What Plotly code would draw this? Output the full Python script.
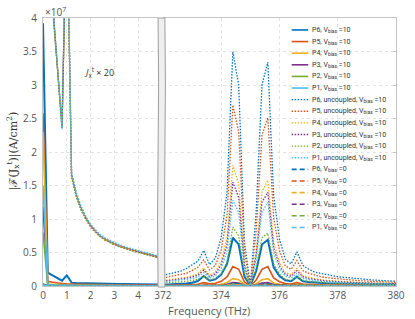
import plotly.graph_objects as go

# ---------------- data (values in units of 1e7 A/cm^2) ----------------
freq_left = [round(0.2 * i, 1) for i in range(26)]          # 0 ... 5.0 THz
freq_right = [round(372 + 0.2 * i, 1) for i in range(41)]   # 372 ... 380 THz

names = ["P6", "P5", "P4", "P3", "P2", "P1"]
colors = ["#0072BD", "#D95319", "#EDB120", "#7E2F8E", "#77AC30", "#4DBEEE"]

# coupled, Vbias = 10 (solid)
P6_c_left = [3.92, 0.20, 0.16, 0.12, 0.08, 0.16, 0.05, 0.045, 0.042, 0.04, 0.038, 0.036, 0.034,
             0.032, 0.031, 0.03, 0.029, 0.028, 0.027, 0.026, 0.025, 0.024, 0.023, 0.022, 0.021, 0.02]
P5_c_left = [2.58, 0.07, 0.055, 0.045, 0.035, 0.03, 0.028, 0.026, 0.024, 0.022, 0.02, 0.019, 0.018,
             0.017, 0.016, 0.015, 0.014, 0.014, 0.013, 0.013, 0.012, 0.012, 0.011, 0.011, 0.01, 0.01]
P4_c_left = [2.3, 0.03, 0.025, 0.02, 0.018, 0.016, 0.015, 0.014, 0.013, 0.012, 0.012, 0.011, 0.011,
             0.01, 0.01, 0.01, 0.009, 0.009, 0.009, 0.009, 0.008, 0.008, 0.008, 0.008, 0.008, 0.008]
P3_c_left = [1.18, 0.015, 0.012, 0.011, 0.01, 0.009, 0.009, 0.008, 0.008, 0.008, 0.007, 0.007, 0.007,
             0.007, 0.006, 0.006, 0.006, 0.006, 0.006, 0.005, 0.005, 0.005, 0.005, 0.005, 0.005, 0.005]
P2_c_left = [0.8, 0.01, 0.009, 0.008, 0.007, 0.007, 0.006, 0.006, 0.006, 0.005, 0.005, 0.005, 0.005,
             0.005, 0.004, 0.004, 0.004, 0.004, 0.004, 0.004, 0.004, 0.004, 0.003, 0.003, 0.003, 0.003]
P1_c_left = [1.5, 0.02, 0.015, 0.012, 0.01, 0.009, 0.008, 0.008, 0.007, 0.007, 0.006, 0.006, 0.006,
             0.006, 0.005, 0.005, 0.005, 0.005, 0.005, 0.004, 0.004, 0.004, 0.004, 0.004, 0.004, 0.004]

P6_c_right = [0.02, 0.022, 0.025, 0.029, 0.036, 0.05, 0.075, 0.15, 0.08, 0.10, 0.17, 0.33, 0.72, 0.62,
              0.14, 0.005, 0.22, 0.62, 0.69, 0.28, 0.15, 0.085, 0.07, 0.14, 0.07, 0.058, 0.05, 0.045,
              0.041, 0.038, 0.036, 0.034, 0.032, 0.031, 0.03, 0.029, 0.028, 0.027, 0.026, 0.025, 0.025]
P5_c_right = [0.008, 0.009, 0.011, 0.013, 0.016, 0.02, 0.027, 0.05, 0.032, 0.042, 0.07, 0.135, 0.29,
              0.25, 0.06, 0.003, 0.09, 0.25, 0.29, 0.12, 0.065, 0.036, 0.03, 0.05, 0.03, 0.024, 0.02,
              0.017, 0.015, 0.014, 0.013, 0.012, 0.011, 0.011, 0.01, 0.01, 0.009, 0.009, 0.009, 0.008, 0.008]
P4_c_right = [0.003, 0.004, 0.004, 0.005, 0.006, 0.008, 0.01, 0.02, 0.012, 0.016, 0.027, 0.052, 0.11,
              0.095, 0.023, 0.001, 0.034, 0.095, 0.11, 0.046, 0.025, 0.014, 0.012, 0.02, 0.012, 0.009,
              0.008, 0.007, 0.006, 0.006, 0.005, 0.005, 0.005, 0.004, 0.004, 0.004, 0.004, 0.004, 0.003,
              0.003, 0.003]
P3_c_right = [0.002, 0.002, 0.002, 0.003, 0.003, 0.004, 0.005, 0.009, 0.006, 0.007, 0.012, 0.024, 0.05,
              0.043, 0.01, 0.001, 0.016, 0.043, 0.05, 0.021, 0.011, 0.006, 0.005, 0.009, 0.005, 0.004,
              0.004, 0.003, 0.003, 0.003, 0.003, 0.002, 0.002, 0.002, 0.002, 0.002, 0.002, 0.002, 0.002,
              0.002, 0.002]
P2_c_right = [0.001, 0.001, 0.001, 0.002, 0.002, 0.002, 0.003, 0.006, 0.004, 0.004, 0.007, 0.014, 0.03,
              0.026, 0.006, 0.0, 0.009, 0.026, 0.03, 0.012, 0.007, 0.004, 0.003, 0.005, 0.003, 0.003,
              0.002, 0.002, 0.002, 0.002, 0.002, 0.001, 0.001, 0.001, 0.001, 0.001, 0.001, 0.001, 0.001,
              0.001, 0.001]
P1_c_right = [0.001, 0.001, 0.001, 0.001, 0.001, 0.001, 0.002, 0.003, 0.002, 0.002, 0.004, 0.007, 0.015,
              0.013, 0.003, 0.0, 0.005, 0.013, 0.015, 0.006, 0.003, 0.002, 0.002, 0.003, 0.002, 0.001,
              0.001, 0.001, 0.001, 0.001, 0.001, 0.001, 0.001, 0.001, 0.001, 0.001, 0.001, 0.001, 0.001,
              0.001, 0.001]

# uncoupled, Vbias = 10 (dotted, x20)
P6_u_left = [9.0, 7.0, 4.25, 3.3, 2.35, 5.9, 1.68, 1.38, 1.18, 1.03, 0.91, 0.83, 0.76, 0.71, 0.67,
             0.64, 0.61, 0.58, 0.56, 0.54, 0.52, 0.5, 0.48, 0.46, 0.44, 0.425]
P5_u_left = [8.8, 6.9, 4.22, 3.28, 2.37, 5.8, 1.66, 1.36, 1.16, 1.02, 0.90, 0.82, 0.75, 0.70, 0.66,
             0.63, 0.60, 0.575, 0.555, 0.535, 0.515, 0.495, 0.475, 0.455, 0.435, 0.42]
P4_u_left = [8.7, 6.8, 4.2, 3.27, 2.38, 5.75, 1.65, 1.35, 1.15, 1.01, 0.895, 0.815, 0.745, 0.695, 0.655,
             0.625, 0.595, 0.57, 0.55, 0.53, 0.51, 0.49, 0.47, 0.45, 0.43, 0.415]
P3_u_left = [8.6, 6.7, 4.18, 3.26, 2.39, 5.7, 1.64, 1.34, 1.14, 1.0, 0.89, 0.81, 0.74, 0.69, 0.65,
             0.62, 0.59, 0.565, 0.545, 0.525, 0.505, 0.485, 0.465, 0.445, 0.425, 0.41]
P2_u_left = [8.5, 6.6, 4.15, 3.25, 2.4, 5.65, 1.63, 1.33, 1.13, 0.99, 0.88, 0.80, 0.735, 0.685, 0.645,
             0.615, 0.585, 0.56, 0.54, 0.52, 0.50, 0.48, 0.46, 0.44, 0.42, 0.405]
P1_u_left = [9.2, 7.1, 4.28, 3.3, 2.34, 5.95, 1.70, 1.40, 1.19, 1.04, 0.92, 0.84, 0.77, 0.72, 0.68,
             0.65, 0.62, 0.59, 0.57, 0.55, 0.53, 0.51, 0.49, 0.47, 0.45, 0.435]

P6_u_right = [0.16, 0.18, 0.20, 0.22, 0.26, 0.31, 0.37, 0.53, 0.32, 0.42, 0.72, 1.40, 3.50, 3.00, 0.65,
              0.01, 1.10, 3.00, 3.34, 1.35, 0.70, 0.40, 0.33, 0.51, 0.31, 0.25, 0.21, 0.19, 0.17, 0.155,
              0.14, 0.13, 0.12, 0.11, 0.10, 0.095, 0.09, 0.085, 0.08, 0.075, 0.07]
P5_u_right = [0.12, 0.135, 0.15, 0.165, 0.19, 0.23, 0.28, 0.39, 0.24, 0.31, 0.54, 1.05, 2.70, 2.30, 0.50,
              0.01, 0.82, 2.25, 2.51, 1.02, 0.53, 0.30, 0.25, 0.38, 0.23, 0.19, 0.16, 0.14, 0.125, 0.115,
              0.105, 0.095, 0.09, 0.085, 0.078, 0.073, 0.069, 0.065, 0.062, 0.058, 0.055]
P4_u_right = [0.08, 0.09, 0.10, 0.11, 0.13, 0.155, 0.185, 0.27, 0.16, 0.21, 0.37, 0.72, 1.80, 1.52, 0.33,
              0.01, 0.52, 1.40, 1.58, 0.66, 0.35, 0.20, 0.17, 0.26, 0.16, 0.13, 0.11, 0.095, 0.085, 0.078,
              0.07, 0.065, 0.06, 0.056, 0.052, 0.049, 0.046, 0.044, 0.042, 0.04, 0.038]
P3_u_right = [0.07, 0.08, 0.09, 0.10, 0.115, 0.135, 0.16, 0.24, 0.14, 0.18, 0.32, 0.62, 1.55, 1.32, 0.29,
              0.01, 0.46, 1.25, 1.40, 0.57, 0.30, 0.17, 0.145, 0.23, 0.14, 0.11, 0.095, 0.083, 0.075,
              0.068, 0.062, 0.057, 0.053, 0.049, 0.046, 0.043, 0.04, 0.038, 0.036, 0.035, 0.033]
P2_u_right = [0.045, 0.05, 0.055, 0.062, 0.07, 0.083, 0.10, 0.15, 0.09, 0.11, 0.18, 0.36, 0.88, 0.75,
              0.17, 0.01, 0.27, 0.72, 0.79, 0.33, 0.18, 0.10, 0.085, 0.14, 0.085, 0.07, 0.06, 0.052,
              0.047, 0.043, 0.039, 0.036, 0.033, 0.031, 0.029, 0.027, 0.025, 0.024, 0.023, 0.022, 0.021]
P1_u_right = [0.06, 0.068, 0.075, 0.083, 0.095, 0.11, 0.135, 0.20, 0.12, 0.15, 0.26, 0.51, 1.28, 1.10,
              0.24, 0.01, 0.40, 1.10, 1.25, 0.49, 0.26, 0.145, 0.12, 0.19, 0.115, 0.095, 0.08, 0.07,
              0.063, 0.057, 0.052, 0.048, 0.044, 0.041, 0.038, 0.036, 0.034, 0.032, 0.03, 0.029, 0.027]

# coupled, Vbias = 0 (dashed)
P6_z_left = [0.03, 0.006, 0.005, 0.005, 0.004, 0.006, 0.004, 0.004, 0.004, 0.003, 0.003, 0.003, 0.003,
             0.003, 0.003, 0.003, 0.002, 0.002, 0.002, 0.002, 0.002, 0.002, 0.002, 0.002, 0.002, 0.002]
P5_z_left = [0.025, 0.005, 0.004, 0.004, 0.003, 0.004, 0.003, 0.003, 0.003, 0.003, 0.003, 0.002, 0.002,
             0.002, 0.002, 0.002, 0.002, 0.002, 0.002, 0.002, 0.002, 0.002, 0.002, 0.002, 0.002, 0.002]
P4_z_left = [0.02, 0.004, 0.003, 0.003, 0.003, 0.003, 0.003, 0.002, 0.002, 0.002, 0.002, 0.002, 0.002,
             0.002, 0.002, 0.002, 0.002, 0.002, 0.001, 0.001, 0.001, 0.001, 0.001, 0.001, 0.001, 0.001]
P3_z_left = [0.015, 0.003, 0.003, 0.002, 0.002, 0.002, 0.002, 0.002, 0.002, 0.002, 0.001, 0.001, 0.001,
             0.001, 0.001, 0.001, 0.001, 0.001, 0.001, 0.001, 0.001, 0.001, 0.001, 0.001, 0.001, 0.001]
P2_z_left = [0.012, 0.002, 0.002, 0.002, 0.002, 0.002, 0.001, 0.001, 0.001, 0.001, 0.001, 0.001, 0.001,
             0.001, 0.001, 0.001, 0.001, 0.001, 0.001, 0.001, 0.001, 0.001, 0.001, 0.001, 0.001, 0.001]
P1_z_left = [0.01, 0.002, 0.002, 0.001, 0.001, 0.001, 0.001, 0.001, 0.001, 0.001, 0.001, 0.001, 0.001,
             0.001, 0.001, 0.001, 0.001, 0.001, 0.001, 0.001, 0.001, 0.001, 0.001, 0.001, 0.001, 0.001]

P6_z_right = [0.004, 0.004, 0.005, 0.005, 0.006, 0.007, 0.008, 0.012, 0.008, 0.009, 0.013, 0.02, 0.035,
              0.03, 0.01, 0.002, 0.012, 0.03, 0.034, 0.016, 0.01, 0.007, 0.006, 0.009, 0.006, 0.005,
              0.005, 0.004, 0.004, 0.004, 0.004, 0.003, 0.003, 0.003, 0.003, 0.003, 0.003, 0.003, 0.003,
              0.003, 0.003]
P5_z_right = [0.003, 0.003, 0.004, 0.004, 0.004, 0.005, 0.006, 0.009, 0.006, 0.007, 0.009, 0.014, 0.025,
              0.021, 0.007, 0.001, 0.008, 0.021, 0.024, 0.011, 0.007, 0.005, 0.004, 0.006, 0.004, 0.004,
              0.003, 0.003, 0.003, 0.003, 0.003, 0.002, 0.002, 0.002, 0.002, 0.002, 0.002, 0.002, 0.002,
              0.002, 0.002]
P4_z_right = [0.002, 0.002, 0.003, 0.003, 0.003, 0.004, 0.004, 0.006, 0.004, 0.005, 0.006, 0.01, 0.017,
              0.015, 0.005, 0.001, 0.006, 0.015, 0.017, 0.008, 0.005, 0.004, 0.003, 0.004, 0.003, 0.003,
              0.002, 0.002, 0.002, 0.002, 0.002, 0.002, 0.002, 0.002, 0.002, 0.002, 0.001, 0.001, 0.001,
              0.001, 0.001]
P3_z_right = [0.002, 0.002, 0.002, 0.002, 0.002, 0.003, 0.003, 0.005, 0.003, 0.004, 0.005, 0.008, 0.013,
              0.011, 0.004, 0.001, 0.005, 0.011, 0.013, 0.006, 0.004, 0.003, 0.002, 0.003, 0.002, 0.002,
              0.002, 0.002, 0.002, 0.001, 0.001, 0.001, 0.001, 0.001, 0.001, 0.001, 0.001, 0.001, 0.001,
              0.001, 0.001]
P2_z_right = [0.001, 0.001, 0.001, 0.002, 0.002, 0.002, 0.002, 0.003, 0.002, 0.003, 0.003, 0.005, 0.009,
              0.008, 0.003, 0.0, 0.003, 0.008, 0.009, 0.004, 0.003, 0.002, 0.002, 0.002, 0.002, 0.001,
              0.001, 0.001, 0.001, 0.001, 0.001, 0.001, 0.001, 0.001, 0.001, 0.001, 0.001, 0.001, 0.001,
              0.001, 0.001]
P1_z_right = [0.001, 0.001, 0.001, 0.001, 0.001, 0.001, 0.001, 0.002, 0.001, 0.002, 0.002, 0.003, 0.006,
              0.005, 0.002, 0.0, 0.002, 0.005, 0.006, 0.003, 0.002, 0.001, 0.001, 0.001, 0.001, 0.001,
              0.001, 0.001, 0.001, 0.001, 0.001, 0.001, 0.001, 0.001, 0.001, 0.001, 0.001, 0.001, 0.001,
              0.001, 0.001]

coupled = [(P6_c_left, P6_c_right), (P5_c_left, P5_c_right), (P4_c_left, P4_c_right),
           (P3_c_left, P3_c_right), (P2_c_left, P2_c_right), (P1_c_left, P1_c_right)]
uncoupled = [(P6_u_left, P6_u_right), (P5_u_left, P5_u_right), (P4_u_left, P4_u_right),
             (P3_u_left, P3_u_right), (P2_u_left, P2_u_right), (P1_u_left, P1_u_right)]
zero_bias = [(P6_z_left, P6_z_right), (P5_z_left, P5_z_right), (P4_z_left, P4_z_right),
             (P3_z_left, P3_z_right), (P2_z_left, P2_z_right), (P1_z_left, P1_z_right)]

y_ticks = [0, 0.5, 1, 1.5, 2, 2.5, 3, 3.5, 4]
y_ticktext = ["0", "0.5", "1", "1.5", "2", "2.5", "3", "3.5", "4"]
x_left_ticks = [0, 1, 2, 3, 4]
x_right_ticks = [372, 374, 376, 378, 380]

# ---------------- styles ----------------
SOLID = dict(dash="solid")
DOT = dict(dash="1.5px,1.5px")
DASH = dict(dash="5px,3px")
groups = [
    (coupled, SOLID, [2.0, 1.6, 1.6, 1.6, 1.6, 1.6], "P{n}, V<sub>bias</sub> =10"),
    (uncoupled, DOT, [1.3] * 6, "P{n}, uncoupled, V<sub>bias</sub> =10"),
    (zero_bias, DASH, [1.5] * 6, "P{n}, V<sub>bias</sub> =0"),
]

fig = go.Figure()
for data, style, widths, _ in groups:
    for i, (yl, yr) in enumerate(data):
        ln = dict(color=colors[i], width=widths[i], **style)
        fig.add_trace(go.Scatter(x=freq_left, y=yl, mode="lines", line=ln, xaxis="x", yaxis="y",
                                 showlegend=False, hoverinfo="skip"))
        fig.add_trace(go.Scatter(x=freq_right, y=yr, mode="lines", line=ln, xaxis="x2", yaxis="y",
                                 showlegend=False, hoverinfo="skip"))
# carrier trace for the right-hand tick axis
fig.add_trace(go.Scatter(x=[None], y=[None], xaxis="x2", yaxis="y3", showlegend=False,
                         hoverinfo="skip"))

AX = "#c4c4c4"
GRID = "#e4e4e4"
TICKFONT = dict(family="Open Sans", size=10, color="#555555")

L, R, T, B = 43, 10, 17, 33
W, H = 415, 319
PW, PH = W - L - R, H - T - B

def px_x(p):
    return (p - L) / PW

def px_y(p):
    return (H - B - p) / PH

fig.update_layout(
    width=W, height=H, margin=dict(l=L, r=R, t=T, b=B),
    paper_bgcolor="white", plot_bgcolor="white", showlegend=False,
    xaxis=dict(domain=[0, px_x(161)], range=[0, (161 - L) / 24.4], tickvals=x_left_ticks,
               showgrid=True, gridcolor=GRID, griddash="dot", showline=True, linecolor=AX,
               mirror=True, zeroline=False, ticks="", tickfont=TICKFONT, anchor="y"),
    xaxis2=dict(domain=[px_x(166), 1], range=[372, 380], tickvals=x_right_ticks,
                showgrid=True, gridcolor=GRID, griddash="dot", showline=True, linecolor=AX,
                mirror=True, zeroline=False, ticks="", tickfont=TICKFONT, anchor="y"),
    yaxis=dict(domain=[0, 1], range=[0, 4], tickvals=y_ticks, ticktext=y_ticktext,
               showgrid=True, gridcolor=GRID, griddash="dot", showline=True, linecolor=AX,
               zeroline=False, ticks="", tickfont=TICKFONT, anchor="x", ticklabelstandoff=3),
    yaxis3=dict(overlaying="y", anchor="x2", side="right", range=[0, 4], tickvals=y_ticks,
                showticklabels=False, ticks="inside", ticklen=3, tickcolor=AX, showgrid=False,
                showline=True, linecolor=AX, zeroline=False),
)

shapes = []
annotations = []

# axis break band
x0, x1 = px_x(161), px_x(168)
wv = 0.003
band = (f"M {x0},1.0 Q {x0 + wv},0.75 {x0},0.5 Q {x0 - wv},0.25 {x0},-0.004 "
        f"L {x1},-0.004 Q {x1 - wv},0.25 {x1},0.5 Q {x1 + wv},0.75 {x1},1.0 Z")
shapes.append(dict(type="path", path=band, xref="paper", yref="paper", fillcolor="#efefef",
                   line=dict(color="#9e9e9e", width=1), layer="above"))

# manual legend
lx0, lx1, ltx = px_x(298), px_x(315), px_x(317)
k = 0
for data, style, widths, label in groups:
    for i in range(6):
        yp = px_y(29 + 11.66 * k)
        shapes.append(dict(type="line", xref="paper", yref="paper", x0=lx0, x1=lx1, y0=yp, y1=yp,
                           line=dict(color=colors[i], width=1.6 if style is not DOT else 1.3,
                                     **style), layer="above"))
        annotations.append(dict(text=label.format(n=names[i][1]), xref="paper", yref="paper",
                                x=ltx, y=yp, xanchor="left", yanchor="middle", showarrow=False,
                                font=dict(family="Roboto", size=7, color="#333333")))
        k += 1

annotations += [
    dict(text="|ℱ(J<sub>x</sub><sup>t</sup>)|(A/cm<sup>2</sup>)", xref="paper", yref="paper",
         x=px_x(12), y=px_y(150), textangle=-90, showarrow=False, xanchor="center",
         yanchor="middle", font=dict(family="DejaVu Serif", size=11, color="#333333")),
    dict(text="Frequency (THz)", xref="paper", yref="paper", x=px_x(213), y=px_y(311),
         showarrow=False, xanchor="center", yanchor="middle",
         font=dict(family="Open Sans", size=11, color="#555555")),
    dict(text="×10<sup>7</sup>", xref="paper", yref="paper", x=px_x(43), y=px_y(11),
         showarrow=False, xanchor="left", yanchor="middle",
         font=dict(family="Open Sans", size=10, color="#555555")),
    dict(text="<i>J</i><sub>x</sub><sup>t</sup> × 20", xref="paper", yref="paper",
         x=px_x(83), y=px_y(72), showarrow=False, xanchor="left", yanchor="middle",
         font=dict(family="Open Sans", size=9, color="#333333")),
]

fig.update_layout(shapes=shapes, annotations=annotations)
fig.write_html("out.html", config={"displayModeBar": False},
               post_script="document.body.style.margin='0';document.body.style.overflow='hidden';")
